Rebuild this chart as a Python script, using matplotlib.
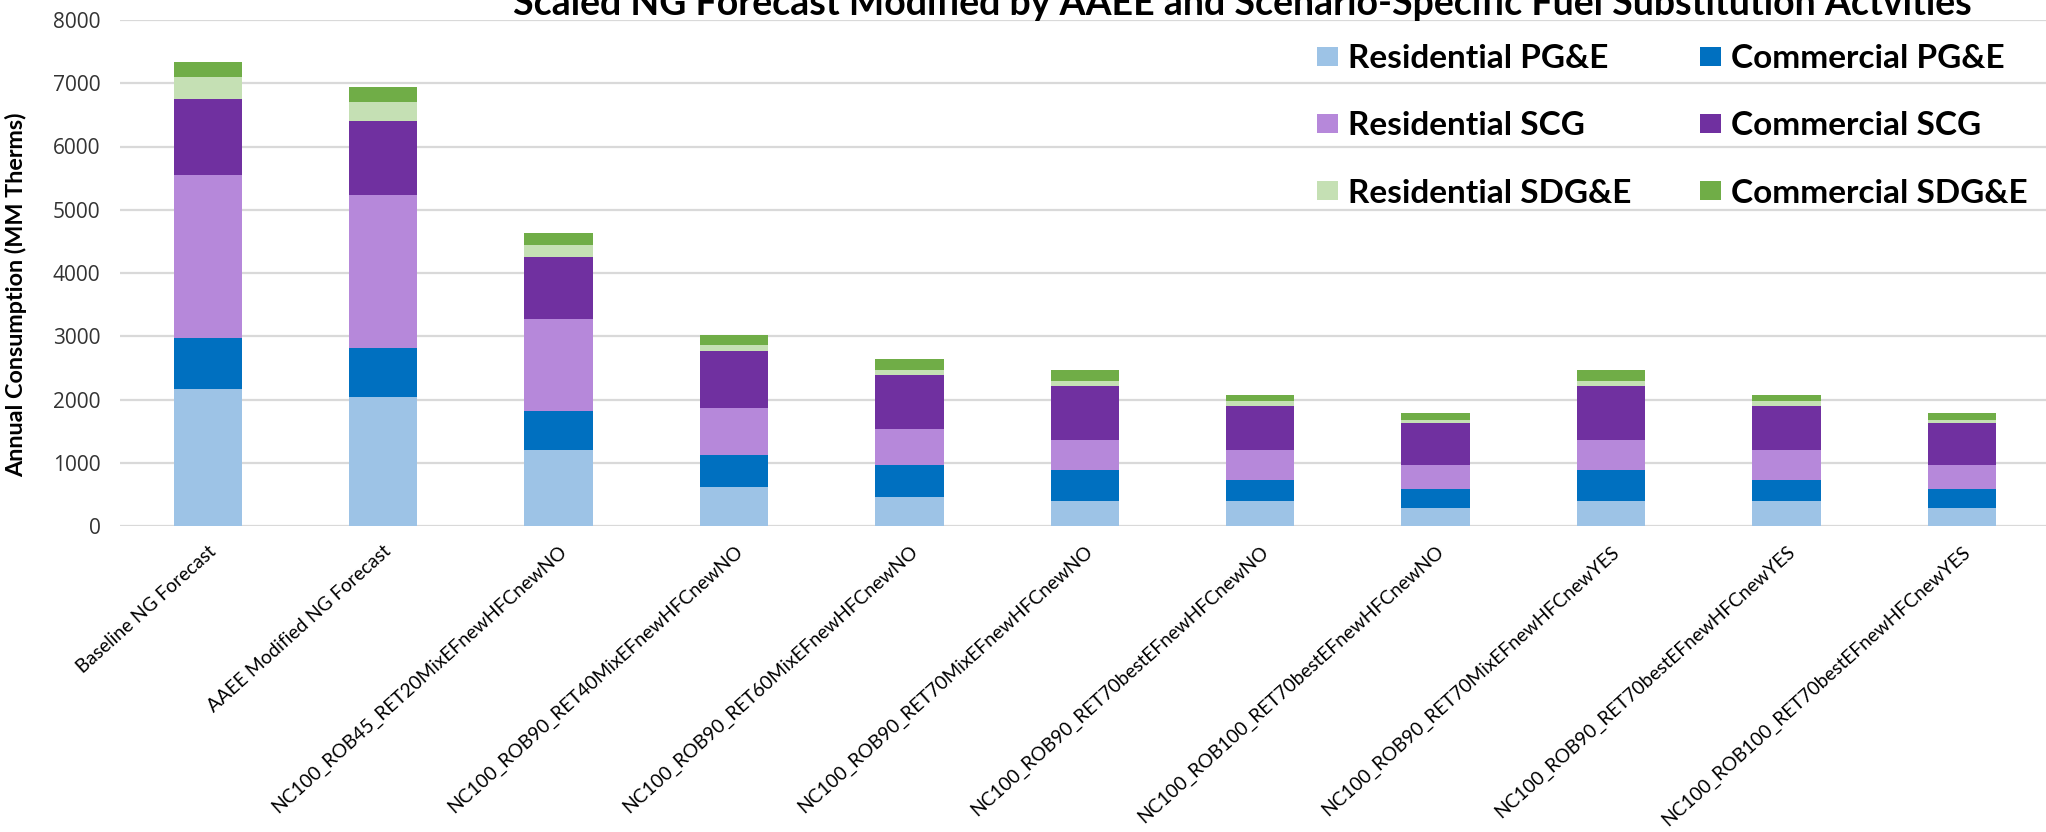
import matplotlib
matplotlib.use('Agg')
import matplotlib.pyplot as plt
import numpy as np

# Scenario names and stacked values (MM Therms)
categories = [
    'Baseline NG Forecast',
    'AAEE Modified NG Forecast',
    'NC100_ROB45_RET20MixEFnewHFCnewNO',
    'NC100_ROB90_RET40MixEFnewHFCnewNO',
    'NC100_ROB90_RET60MixEFnewHFCnewNO',
    'NC100_ROB90_RET70MixEFnewHFCnewNO',
    'NC100_ROB90_RET70bestEFnewHFCnewNO',
    'NC100_ROB100_RET70bestEFnewHFCnewNO',
    'NC100_ROB90_RET70MixEFnewHFCnewYES',
    'NC100_ROB90_RET70bestEFnewHFCnewYES',
    'NC100_ROB100_RET70bestEFnewHFCnewYES',
]
res_pge = [2160, 2035, 1200, 617, 458, 389, 389, 289, 389, 389, 289]
com_pge = [820, 775, 615, 513, 510, 500, 332, 300, 500, 332, 300]
res_scg = [2570, 2430, 1450, 728, 558, 474, 484, 379, 474, 484, 379]
com_scg = [1200, 1160, 985, 907, 869, 853, 690, 658, 853, 690, 658]
res_sdge = [345, 300, 195, 95, 79, 84, 79, 42, 84, 79, 42]
com_sdge = [235, 247, 195, 158, 168, 163, 105, 116, 163, 105, 116]

series = [
    ('Residential PG&E', res_pge, '#9dc3e6'),
    ('Commercial PG&E', com_pge, '#0070c0'),
    ('Residential SCG', res_scg, '#b688da'),
    ('Commercial SCG', com_scg, '#7030a0'),
    ('Residential SDG&E', res_sdge, '#c5e0b4'),
    ('Commercial SDG&E', com_sdge, '#70ad47'),
]

W, H = 2046, 832
fig = plt.figure(figsize=(W / 100, H / 100), dpi=100)
ax = fig.add_axes([120 / W, (H - 526) / H, (W - 120) / W, (526 - 20) / H])

x = np.arange(len(categories))
bottom = np.zeros(len(categories))
bars = {}
for name, vals, col in series:
    bars[name] = ax.bar(x, vals, width=0.39, bottom=bottom, color=col, label=name, zorder=2)
    bottom += np.array(vals)

ax.set_xlim(-0.5, 10.48)
ax.set_ylim(0, 8000)
ax.set_yticks(np.arange(0, 8001, 1000))
ax.yaxis.grid(True, color='#d9d9d9', linewidth=1.6)
ax.set_axisbelow(True)
for s in ax.spines.values():
    s.set_visible(False)
ax.tick_params(axis='both', length=0)
ax.tick_params(axis='y', pad=14)
for lab in ax.get_yticklabels():
    lab.set_fontfamily('Open Sans')
    lab.set_fontsize(15)
    lab.set_color('#333333')

ax.set_xticks(x)
xlabels = ax.set_xticklabels(categories, rotation=42, ha='right', va='top',
                             rotation_mode='anchor', fontfamily='Lato', fontsize=15.3)
ax.tick_params(axis='x', pad=12)

# size the category labels so the longest ones end just above the bottom edge
fig.canvas.draw()
r = fig.canvas.get_renderer()
for _ in range(3):
    exts = [t.get_window_extent(r) for t in xlabels]
    low = min(exts, key=lambda b: b.y0)
    fs = xlabels[0].get_fontsize() * (low.y1 - 3) / (low.y1 - low.y0)
    for t in xlabels:
        t.set_fontsize(fs)
    fig.canvas.draw()

fig.text(16 / W, 1 - 295 / H, 'Annual Consumption (MM Therms)', rotation=90,
         ha='center', va='center', fontfamily='Lato', fontweight='bold', fontsize=16.8)

fig.text(1242 / W, 1 - 15 / H,
         'Scaled NG Forecast Modified by AAEE and Scenario-Specific Fuel Substitution Actvities',
         ha='center', va='baseline', fontfamily='Lato', fontweight='bold', fontsize=27)

order = ['Residential PG&E', 'Residential SCG', 'Residential SDG&E',
         'Commercial PG&E', 'Commercial SCG', 'Commercial SDG&E']
ax.legend([bars[n] for n in order], order, ncol=2, loc='upper left',
          bbox_to_anchor=(1317 / W, 1 - 44 / H), bbox_transform=fig.transFigure,
          frameon=False, prop={'family': 'Lato', 'weight': 'bold', 'size': 24},
          handlelength=0.63, handleheight=0.5, handletextpad=0.3,
          columnspacing=2.05, labelspacing=1.15, borderpad=0, borderaxespad=0)

fig.savefig('out.png', dpi=100)
